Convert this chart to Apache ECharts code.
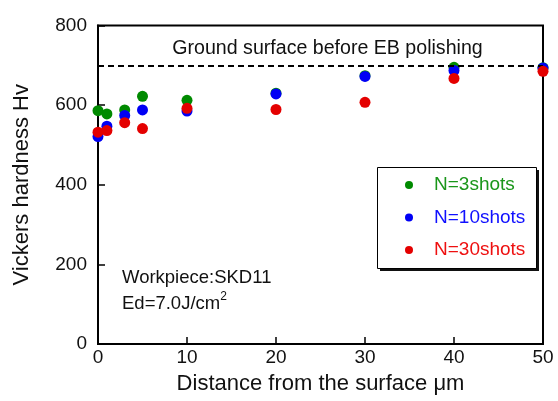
<!DOCTYPE html>
<html>
<head>
<meta charset="utf-8">
<script src="https://cdn.jsdelivr.net/npm/echarts@6/dist/echarts.min.js"></script>
<style>
html,body{margin:0;padding:0;background:#fff;}
#c{width:558px;height:401px;}
</style>
</head>
<body>
<div id="c"></div>
<script>
const distances = [0, 1, 3, 5, 10, 20, 30, 40, 50];
const hvN3 = [586, 578, 588, 622, 612, 630, 674, 695, 694];
const hvN10 = [521, 547, 574, 588, 585, 628, 672, 687, 693];
const hvN30 = [532, 536, 556, 541, 592, 589, 607, 667, 685];
const seriesNames = ['N=3shots', 'N=10shots', 'N=30shots'];
const referenceHv = 700;
const referenceLabel = 'Ground surface before EB polishing';
const xTicks = [0, 10, 20, 30, 40, 50];
const yTicks = [0, 200, 400, 600, 800];

const colors = ['#008a00', '#0000f5', '#e40000'];
const textColors = ['#1a961a', '#1010ff', '#ee1010'];
const font = 'Liberation Sans, Arial, sans-serif';

function pairs(ys) { return distances.map((x, i) => [x, ys[i]]); }

const chart = echarts.init(document.getElementById('c'), null, {renderer: 'canvas'});
const allSeries = [hvN3, hvN10, hvN30].map((ys, i) => ({
  name: seriesNames[i],
  type: 'scatter',
  data: pairs(ys),
  symbol: 'circle',
  symbolSize: 11,
  itemStyle: {color: colors[i], opacity: 1},
  z: 3 + i
}));
allSeries[0].markLine = {
  silent: true,
  symbol: ['none', 'none'],
  lineStyle: {color: '#000', type: [6, 4], width: 2},
  label: {
    show: true, position: 'insideMiddleTop', formatter: referenceLabel,
    color: '#111', fontSize: 19.6, fontFamily: font, distance: 7, offset: [7, 0]
  },
  data: [{yAxis: referenceHv}]
};

chart.setOption({
  animation: false,
  backgroundColor: '#fff',
  grid: {left: 98, right: 15, top: 25.5, bottom: 57, show: true, borderColor: '#000', borderWidth: 2, backgroundColor: 'transparent'},
  xAxis: {
    type: 'value', min: xTicks[0], max: xTicks[xTicks.length - 1], interval: 10,
    name: 'Distance from the surface \u03bcm', nameLocation: 'middle', nameGap: 29,
    nameTextStyle: {color: '#111', fontSize: 22, fontFamily: font},
    axisLine: {show: true, onZero: false, lineStyle: {color: '#000', width: 2}},
    axisTick: {show: true, inside: true, length: 7, lineStyle: {color: '#000', width: 1.5}},
    axisLabel: {color: '#111', fontSize: 19, fontFamily: font, margin: 4},
    splitLine: {show: false}
  },
  yAxis: {
    type: 'value', min: yTicks[0], max: yTicks[yTicks.length - 1], interval: 200,
    name: 'Vickers hardness Hv', nameLocation: 'middle', nameGap: 65, nameRotate: 90,
    nameTextStyle: {color: '#111', fontSize: 22, fontFamily: font},
    axisLine: {show: true, onZero: false, lineStyle: {color: '#000', width: 2}},
    axisTick: {show: true, inside: true, length: 7, lineStyle: {color: '#000', width: 1.5}},
    axisLabel: {color: '#111', fontSize: 19, fontFamily: font, margin: 11},
    splitLine: {show: false}
  },
  legend: {
    orient: 'vertical', left: 377, top: 167, z: 20,
    data: seriesNames.map((n, i) => ({name: n, icon: 'circle', textStyle: {color: textColors[i]}})),
    itemWidth: 40, itemHeight: 8, itemGap: 13.5,
    padding: [8.5, 12, 8.5, 28],
    backgroundColor: 'transparent', borderWidth: 0,
    textStyle: {fontSize: 19, fontFamily: font}
  },
  graphic: [
    {type: 'rect', z: 10, shape: {x: 380, y: 170, width: 159, height: 101}, style: {fill: '#111'}, silent: true},
    {type: 'rect', z: 11, shape: {x: 377.5, y: 167.5, width: 159, height: 101}, style: {fill: '#fff', stroke: '#000', lineWidth: 1}, silent: true},
    {type: 'text', left: 122, top: 268, style: {text: 'Workpiece:SKD11', fill: '#111', font: '18.5px Liberation Sans, Arial, sans-serif'}},
    {type: 'text', left: 122, top: 291, style: {
      text: '{a|Ed=7.0J/cm}{s|2}', fill: '#111',
      rich: {a: {fontSize: 18.5, fontFamily: font, color: '#111', verticalAlign: 'bottom'},
             s: {fontSize: 12, fontFamily: font, color: '#111', verticalAlign: 'top', padding: [0, 0, 10, 0]}}
    }}
  ],
  series: allSeries
});
</script>
</body>
</html>
